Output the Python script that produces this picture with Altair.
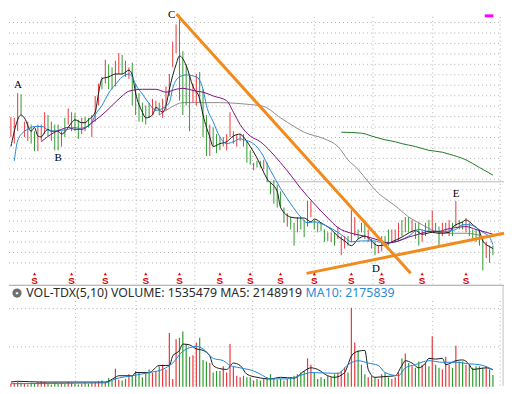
import altair as alt
import pandas as pd

# ---------------- data ----------------
# daily bars, day index 0..143 (prices in yuan)
high = [28.8, 28.7, 31.3, 31.2, 28.3, 28.3, 28.0, 27.3, 28.0, 28.0,
        29.3, 29.0, 28.3, 28.0, 28.0, 27.3, 28.7, 29.7, 29.3, 29.2,
        28.5, 28.7, 28.8, 28.7, 29.0, 31.0, 32.3, 33.0, 34.8, 34.3,
        34.0, 34.7, 35.5, 35.3, 34.7, 34.0, 34.5, 32.3, 31.3, 30.3,
        30.0, 30.3, 30.7, 30.5, 30.3, 30.7, 32.0, 33.3, 36.7, 38.5,
        39.5, 35.7, 34.3, 33.3, 32.3, 33.3, 33.5, 31.7, 29.0, 28.0,
        27.7, 27.0, 26.7, 26.7, 27.0, 29.3, 27.3, 27.0, 27.0, 27.0,
        26.3, 25.3, 24.0, 24.2, 24.2, 24.3, 24.0, 22.0, 22.2, 21.7,
        21.0, 19.3, 18.7, 18.3, 17.7, 18.3, 18.3, 18.0, 20.0, 20.0,
        18.0, 17.7, 17.7, 17.0, 16.7, 16.7, 16.7, 17.3, 16.3, 16.3,
        16.3, 19.0, 18.3, 17.0, 17.7, 18.0, 17.0, 16.0, 15.7, 15.3,
        16.3, 16.3, 17.0, 17.0, 17.0, 17.7, 18.0, 18.3, 18.3, 18.0,
        17.7, 17.7, 17.0, 17.7, 18.0, 19.0, 17.7, 17.3, 17.7, 17.7,
        18.0, 17.7, 20.0, 18.0, 17.8, 18.2, 17.7, 17.0, 17.0, 17.0,
        16.3, 15.7, 15.3, 15.3]
low = [26.7, 26.0, 27.3, 29.0, 26.7, 26.3, 26.0, 25.2, 25.2, 26.3,
       27.0, 26.8, 26.3, 25.3, 25.3, 25.7, 26.7, 28.0, 27.3, 27.3,
       26.5, 27.0, 27.3, 27.7, 26.7, 28.3, 30.0, 31.7, 32.3, 31.7,
       31.7, 32.0, 33.3, 33.3, 33.0, 32.8, 30.0, 29.0, 28.3, 28.3,
       28.0, 28.7, 29.0, 29.5, 29.0, 28.7, 29.5, 31.0, 34.0, 35.5,
       30.5, 29.0, 30.0, 27.3, 30.3, 30.0, 30.3, 26.7, 24.7, 24.7,
       25.7, 25.0, 25.3, 25.7, 25.3, 26.7, 26.0, 25.7, 26.3, 25.7,
       24.0, 23.8, 23.2, 23.5, 23.5, 23.3, 22.0, 20.7, 19.7, 19.3,
       19.3, 17.7, 17.3, 17.0, 15.3, 16.7, 17.0, 16.2, 17.3, 18.3,
       17.0, 16.7, 16.8, 15.7, 15.8, 15.7, 15.3, 16.0, 14.3, 15.0,
       15.3, 15.7, 16.3, 16.0, 16.7, 16.0, 15.7, 15.0, 14.3, 14.5,
       14.7, 15.2, 15.3, 15.7, 15.7, 15.8, 16.3, 16.7, 16.7, 16.7,
       16.0, 15.3, 15.7, 16.3, 16.7, 16.7, 16.7, 15.3, 16.3, 16.7,
       16.3, 16.3, 17.3, 17.0, 17.0, 16.7, 16.3, 16.0, 15.7, 15.3,
       12.7, 14.0, 13.5, 14.3]
# r = up day (red), g = down day (green)
updown = list("rrrgrrggrr" "rgrggrgrrg" "grggrrrgrg" "grrgrrgggg"
              "ggrrgrrrrr" "ggggrrgggr" "gggrrrrrrg" "ggrggrgggg"
              "ggrggrggrr" "gggggrgrrr" "grrgggrrgr" "rggrrrgrgr"
              "ggrrgrggrr" "rgrggrgggg" "grgg")
# volume, millions of shares
volume = [0.4, 0.5, 0.6, 0.5, 0.4, 0.3, 0.5, 0.4, 0.6, 0.7,
          0.6, 0.4, 0.3, 0.5, 0.4, 0.5, 0.4, 0.6, 0.5, 0.4,
          0.3, 0.4, 0.5, 0.4, 0.5, 0.6, 0.7, 0.8, 0.6, 1.1,
          0.8, 2.3, 0.9, 0.8, 1.0, 1.6, 1.4, 2.0, 1.8, 1.2,
          1.8, 2.2, 1.8, 2.0, 2.6, 2.8, 2.2, 6.8, 1.0, 6.0,
          6.2, 7.0, 5.4, 3.8, 4.0, 5.6, 6.2, 3.4, 3.2, 3.0,
          1.8, 2.0, 2.0, 2.6, 1.8, 5.4, 2.6, 1.4, 1.2, 1.4,
          1.2, 1.2, 0.8, 1.0, 0.8, 1.0, 1.2, 1.6, 1.0, 0.9,
          1.0, 0.8, 1.0, 1.2, 1.4, 1.6, 1.8, 2.0, 3.6, 2.8,
          1.8, 1.0, 1.2, 1.0, 1.4, 1.2, 1.6, 1.8, 2.0, 2.4,
          1.8, 10.0, 5.6, 4.6, 2.8, 1.6, 1.2, 1.4, 1.2, 1.0,
          1.6, 1.8, 1.2, 1.0, 1.2, 1.8, 3.6, 4.2, 3.0, 2.6,
          2.4, 3.2, 2.8, 3.0, 2.6, 6.4, 2.8, 2.4, 2.2, 3.8,
          2.8, 2.4, 5.2, 3.2, 3.2, 2.8, 2.8, 2.4, 2.6, 2.6,
          2.4, 2.6, 2.2, 1.5]

# moving averages (day index, price)
ma5_day = [0, 3, 4, 6, 7, 8, 9, 10, 11, 12, 14, 15, 17, 18, 19, 21, 22, 23, 25, 26, 27, 29, 31, 33, 35, 36, 37, 39, 40, 42, 43, 45, 46, 47, 49, 50, 52, 54, 56, 57, 59, 60, 62, 64, 66, 68, 69, 71, 73, 76, 79, 80, 83, 85, 87, 89, 90, 92, 95, 97, 99, 101, 103, 105, 109, 111, 113, 116, 119, 120, 122, 125, 127, 130, 131, 134, 135, 137, 139, 140, 142, 143]
ma5_val = [25.7, 29.0, 28.7, 27.3, 27.7, 26.8, 26.7, 27.2, 27.5, 27.3, 27.3, 27.0, 27.7, 28.2, 28.5, 28.2, 28.2, 28.5, 29.3, 31.3, 32.8, 33.0, 33.3, 33.3, 33.7, 33.2, 31.3, 29.3, 28.7, 29.0, 29.8, 29.3, 30.0, 31.7, 34.3, 35.2, 34.2, 32.0, 30.7, 29.0, 26.7, 25.7, 26.0, 26.2, 26.8, 27.0, 26.7, 25.7, 24.5, 22.3, 21.0, 19.3, 18.3, 18.2, 18.2, 17.8, 18.1, 17.7, 17.0, 16.3, 15.8, 15.3, 16.0, 16.3, 15.3, 15.4, 15.7, 16.2, 16.8, 16.9, 16.5, 16.7, 16.6, 16.7, 17.2, 17.8, 18.0, 17.5, 16.8, 15.8, 15.2, 15.0]
ma10_day = [1, 2, 4, 5, 7, 9, 10, 11, 13, 15, 17, 19, 20, 22, 24, 25, 27, 29, 31, 33, 35, 36, 37, 39, 41, 43, 45, 47, 48, 50, 52, 55, 57, 58, 60, 62, 64, 66, 68, 70, 71, 74, 77, 80, 83, 86, 88, 90, 94, 97, 99, 101, 104, 108, 109, 112, 115, 118, 121, 124, 127, 129, 132, 134, 136, 138, 140, 142, 143]
ma10_val = [24.2, 26.3, 27.3, 27.5, 27.8, 27.8, 27.7, 27.4, 27.3, 27.4, 27.5, 27.7, 27.6, 27.7, 28.2, 29.0, 30.0, 31.3, 32.2, 33.0, 33.3, 33.0, 32.2, 31.2, 30.2, 29.5, 29.7, 30.3, 31.8, 33.0, 33.2, 33.0, 31.7, 30.0, 28.3, 26.7, 26.0, 26.2, 26.5, 26.3, 26.2, 25.2, 23.2, 21.3, 19.7, 18.3, 17.7, 17.8, 17.3, 16.7, 16.2, 15.7, 15.8, 15.8, 15.7, 15.6, 15.8, 16.3, 17.0, 16.8, 16.8, 16.8, 17.0, 17.5, 17.5, 17.2, 16.7, 16.2, 15.4]
ma20_day = [9, 12, 15, 17, 19, 21, 24, 27, 30, 33, 35, 39, 43, 46, 49, 51, 55, 57, 60, 64, 66, 68, 71, 74, 77, 80, 83, 86, 90, 94, 97, 101, 105, 108, 112, 115, 118, 121, 124, 127, 129, 132, 135, 138, 141, 143]
ma20_val = [26.2, 27.0, 27.5, 27.7, 27.5, 27.5, 28.2, 29.0, 30.0, 31.0, 31.5, 31.7, 31.7, 31.4, 31.7, 31.8, 31.5, 31.4, 31.0, 30.5, 29.3, 28.0, 26.8, 26.2, 25.2, 24.0, 22.7, 21.3, 19.7, 18.2, 17.2, 16.6, 16.3, 16.0, 15.6, 15.8, 16.2, 16.5, 16.8, 16.8, 17.0, 17.2, 17.3, 17.0, 16.7, 16.5]
ma60_day = [44, 47, 51, 57, 62, 68, 71, 75, 80, 84, 87, 93, 97, 100, 103, 106, 109, 112, 115, 118, 121, 124, 127, 130, 135, 139]
ma60_val = [29.0, 29.7, 30.3, 30.3, 30.3, 30.2, 30.1, 29.9, 28.7, 27.8, 27.2, 26.5, 25.7, 24.3, 23.3, 22.0, 20.8, 20.0, 19.2, 18.3, 17.7, 17.1, 16.7, 16.6, 16.6, 16.4]
ma250_day = [98, 104, 107, 111, 114, 116, 120, 124, 128, 130, 135, 139, 143]
ma250_val = [27.2, 27.1, 26.8, 26.4, 26.2, 26.0, 25.7, 25.3, 25.1, 24.9, 24.3, 23.5, 22.7]

# volume moving averages (day index, millions)
vma5_day = [0, 2, 9, 28, 31, 32, 36, 37, 41, 44, 47, 48, 50, 51, 53, 55, 57, 59, 60, 62, 64, 66, 68, 70, 73, 77, 80, 84, 87, 89, 91, 94, 96, 99, 100, 101, 103, 105, 106, 108, 111, 114, 116, 117, 119, 121, 123, 124, 126, 128, 129, 132, 134, 136, 137, 139, 141, 143]
vma5_val = [0.6, 0.7, 0.6, 0.6, 1.2, 1.4, 1.4, 1.8, 1.8, 2.7, 2.7, 3.9, 4.6, 5.4, 5.3, 4.8, 4.6, 3.9, 2.7, 2.3, 2.2, 3.0, 2.7, 1.6, 1.2, 1.0, 1.2, 1.1, 2.0, 2.4, 2.2, 1.4, 1.2, 1.8, 2.8, 3.9, 4.5, 4.6, 2.2, 1.2, 1.3, 1.4, 2.7, 3.3, 3.0, 2.4, 3.0, 3.6, 3.5, 3.6, 2.8, 3.3, 3.4, 2.8, 2.2, 2.3, 2.4, 2.15]
vma10_day = [0, 28, 31, 36, 41, 45, 48, 51, 55, 57, 60, 63, 65, 68, 72, 74, 77, 82, 87, 89, 97, 100, 103, 106, 109, 111, 115, 117, 120, 124, 128, 132, 136, 139, 143]
vma10_val = [0.4, 0.5, 1.0, 1.4, 1.8, 2.2, 3.0, 4.5, 5.1, 4.8, 3.6, 3.3, 2.7, 2.4, 2.0, 1.6, 1.0, 1.0, 1.6, 1.8, 1.7, 2.8, 3.3, 3.0, 2.7, 1.8, 1.4, 2.4, 2.8, 3.3, 3.1, 3.1, 2.9, 2.8, 2.18]

# trend lines drawn on the chart (start/end day, price)
trend_day0 = [49.1, 87.7]
trend_p0 = [39.6, 12.4]
trend_day1 = [118.6, 146.3]
trend_p1 = [12.4, 16.6]

# annotation letters
label_text = ["A", "B", "C", "D", "E"]
label_day = [2.1, 14.0, 47.7, 108.3, 132.1]
label_p = [32.15, 24.45, 39.45, 12.9, 20.75]

# "S" signal days
signal_day = [7, 18, 28, 40, 50, 62, 71, 80, 90, 101, 110, 122, 135]

# level line
level_price = 22.0
level_from_day = 75.7

header_main = "VOL-TDX(5,10) VOLUME: 1535479 MA5: 2148919"
header_ma10 = "MA10: 2175839"

# ---------------- layout ----------------
W, H = 498, 378
RW, RH = 514, 394


def sx(x):
    return round(x * W / RW, 2)


def sy(y):
    return round(y * H / RH, 2)


RED = "#e8383d"
GREEN = "#2f9a2f"
ORANGE = "#f28a1c"
GRID = "#b0b0b0"

XS = alt.Scale(domain=[-2 / 3.5, (RW - 2) / 3.5], nice=False, zero=False)
PS = alt.Scale(domain=[40 - RH / 10, 40], nice=False, zero=False)
VS = alt.Scale(domain=[(395 - RH) / 8.3, 395 / 8.3], nice=False, zero=False)
CS = alt.Scale(domain=["r", "g"], range=[RED, GREEN])


def X(f):
    return alt.X(f, type="quantitative", scale=XS, axis=None)


def Y(f):
    return alt.Y(f, type="quantitative", scale=PS, axis=None)


def YV(f):
    return alt.Y(f, type="quantitative", scale=VS, axis=None)


def PX(f):
    return alt.X(f, type="quantitative", scale=None, axis=None)


def PY(f):
    return alt.Y(f, type="quantitative", scale=None, axis=None)


bars = pd.DataFrame({"i": list(range(len(high))), "hi": high, "lo": low,
                     "c": updown, "v": volume, "z": 0.0})


def series(name, days, vals):
    return pd.DataFrame({"i": days, "p": vals, "s": name})


ma_main = pd.concat([series("MA5", ma5_day, ma5_val),
                     series("MA10", ma10_day, ma10_val),
                     series("MA20", ma20_day, ma20_val)])
ma_long = pd.concat([series("MA60", ma60_day, ma60_val),
                     series("MA250", ma250_day, ma250_val)])
ma_vol = pd.concat([series("V5", vma5_day, vma5_val),
                    series("V10", vma10_day, vma10_val)])

# gridlines (pixel positions)
hgrid = pd.DataFrame({"y": [sy(13 + 10.96 * k) for k in range(24)]})
vgrid_x = [69, 132, 193, 253, 317, 378, 440, 510]
vgrid = pd.DataFrame({"x": [sx(v) for v in vgrid_x]})
vhgrid = pd.DataFrame({"y": [sy(313), sy(353)]})

g_h = alt.Chart(hgrid).mark_rule(color=GRID, strokeDash=[1, 3], strokeWidth=1).encode(
    y=PY("y"), x=alt.value(0), x2=alt.value(sx(510)))
g_v = alt.Chart(vgrid).mark_rule(color=GRID, strokeDash=[1, 3], strokeWidth=1).encode(
    x=PX("x"), y=alt.value(sy(7)), y2=alt.value(sy(287)))
g_v2 = alt.Chart(vgrid).mark_rule(color=GRID, strokeDash=[1, 3], strokeWidth=1).encode(
    x=PX("x"), y=alt.value(sy(305)), y2=alt.value(H))
g_vh = alt.Chart(vhgrid).mark_rule(color=GRID, strokeDash=[1, 3], strokeWidth=1).encode(
    y=PY("y"), x=alt.value(0), x2=alt.value(sx(510)))
sep = alt.Chart(pd.DataFrame({"y": [sy(288.5)]})).mark_rule(color="#a0a0a0", strokeWidth=1).encode(
    y=PY("y"), x=alt.value(0), x2=alt.value(W))
right_edge = alt.Chart(pd.DataFrame({"x": [sx(513)]})).mark_rule(color="#c0c0c0", strokeWidth=1).encode(
    x=PX("x"), y=alt.value(sy(288.5)), y2=alt.value(H))

level = alt.Chart(pd.DataFrame({"a": [level_from_day], "b": [XS.domain[1]], "p": [level_price]})).mark_rule(
    color="#b8b8b8", strokeWidth=1).encode(x=X("a"), x2="b", y=Y("p"))

long_lines = alt.Chart(ma_long).mark_line(strokeWidth=1, interpolate="monotone").encode(
    x=X("i"), y=Y("p"), detail="s:N",
    color=alt.Color("s:N", scale=alt.Scale(domain=["MA60", "MA250"], range=["#8c8c8c", "#1e7b1e"]), legend=None))

candles = alt.Chart(bars).mark_rule(strokeWidth=1).encode(
    x=X("i"), y=Y("hi"), y2="lo", color=alt.Color("c:N", scale=CS, legend=None))

ma_lines = alt.Chart(ma_main).mark_line(strokeWidth=1, interpolate="monotone").encode(
    x=X("i"), y=Y("p"), detail="s:N",
    color=alt.Color("s:N", scale=alt.Scale(domain=["MA5", "MA10", "MA20"],
                                           range=["#1a1a1a", "#1f86d6", "#800f80"]), legend=None))

trend = alt.Chart(pd.DataFrame({"a": trend_day0, "pa": trend_p0, "b": trend_day1, "pb": trend_p1})).mark_rule(
    color=ORANGE, strokeWidth=3).encode(x=X("a"), y=Y("pa"), x2="b", y2="pb")

labels = alt.Chart(pd.DataFrame({"t": label_text, "i": label_day, "p": label_p})).mark_text(
    font="Liberation Serif", fontSize=11, color="#000000", baseline="middle", align="center").encode(
    x=X("i"), y=Y("p"), text="t:N")

sig = pd.DataFrame({"i": signal_day})
sig_s = alt.Chart(sig).mark_text(text="S", font="Liberation Sans", fontWeight="bold", fontSize=10,
                                 color="#e00000", baseline="alphabetic", align="center").encode(
    x=X("i"), y=alt.value(sy(287.3)))
sig_t = alt.Chart(sig).mark_point(shape="triangle-up", filled=True, size=10, color="#e00000", opacity=1).encode(
    x=X("i"), y=alt.value(sy(276.6)))

vol_bars = alt.Chart(bars).mark_rule(strokeWidth=1.2).encode(
    x=X("i"), y=YV("v"), y2="z", color=alt.Color("c:N", scale=CS, legend=None))
vol_lines = alt.Chart(ma_vol).mark_line(strokeWidth=1, interpolate="monotone").encode(
    x=X("i"), y=YV("p"), detail="s:N",
    color=alt.Color("s:N", scale=alt.Scale(domain=["V5", "V10"], range=["#1a1a1a", "#1f86d6"]), legend=None))

hdr = pd.DataFrame({"t": [header_main]})
head1 = alt.Chart(hdr).mark_text(font="Noto Sans", fontSize=12.4, color="#2b2b2b", align="left",
                                 baseline="alphabetic").encode(
    x=alt.value(sx(18)), y=alt.value(sy(300.5)), text="t:N")
hdr2 = pd.DataFrame({"t": [header_ma10]})
head2 = alt.Chart(hdr2).mark_text(font="Noto Sans", fontSize=12.4, color="#2d8ad6", align="left",
                                  baseline="alphabetic").encode(
    x=alt.value(sx(308)), y=alt.value(sy(300.5)), text="t:N")
icon = alt.Chart(hdr).mark_point(shape="circle", filled=True, size=85, color="#6e6e6e", opacity=1).encode(
    x=alt.value(sx(8.3)), y=alt.value(sy(296.7)))
chev = alt.Chart(hdr).mark_point(shape="M-0.5,-0.2L0,0.3L0.5,-0.2", filled=False, size=22, color="#ffffff",
                                 strokeWidth=1.4, opacity=1).encode(
    x=alt.value(sx(8.3)), y=alt.value(sy(296.7)))
magenta = alt.Chart(hdr).mark_rule(color="#ff00ff", strokeWidth=3).encode(
    x=alt.value(sx(494)), x2=alt.value(sx(503)), y=alt.value(sy(6)))

chart = alt.layer(
    g_h, g_v, g_v2, g_vh, sep, right_edge, level, long_lines, candles, ma_lines, trend,
    labels, sig_t, sig_s, vol_bars, vol_lines, icon, chev, head1, head2, magenta
).resolve_scale(x="independent", y="independent", color="independent").properties(
    width=W, height=H, padding=0, background="white"
).configure_view(stroke=None)

chart.save("out.html", embed_options={"renderer": "svg", "actions": False})
